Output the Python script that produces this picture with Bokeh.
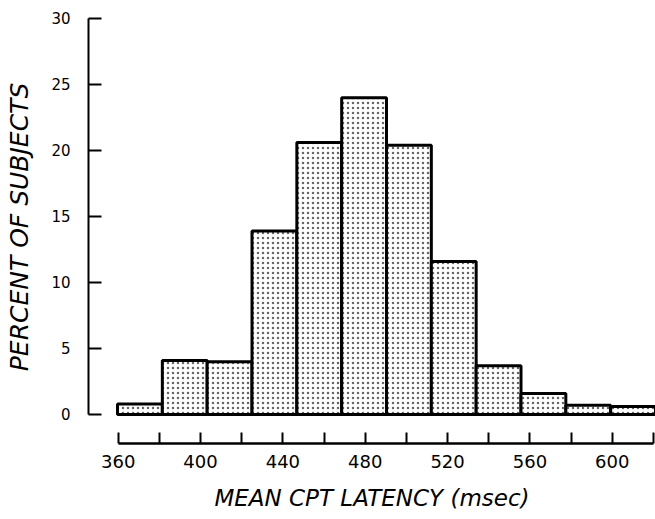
from bokeh.plotting import figure
from bokeh.models import Range1d, LinearAxis, FixedTicker
from bokeh.embed import file_html
from bokeh.resources import INLINE

# Histogram bins (msec) and percent of subjects
bin_left = [360, 380, 400, 420, 440, 460, 480, 500, 520, 540, 560, 580]
bin_right = [380, 400, 420, 440, 460, 480, 500, 520, 540, 560, 580, 600]
percent = [0.8, 4.1, 4.0, 13.9, 20.6, 24.0, 20.4, 11.6, 3.7, 1.6, 0.7, 0.6]

y_ticks = [0, 5, 10, 15, 20, 25, 30]
x_label_ticks = [360, 400, 440, 480, 520, 560, 600]
x_minor_ticks = [380, 420, 460, 500, 540, 580, 620]

p = figure(width=655, height=519, output_backend="svg", toolbar_location=None,
           x_range=Range1d(347.06, 600.0), y_range=Range1d(-2.197, 30.606),
           x_axis_location=None, y_axis_location=None,
           min_border_left=88, min_border_right=0, min_border_top=10, min_border_bottom=76)
p.extra_x_ranges = {"scale": Range1d(345.57, 621.0)}
p.grid.visible = False
p.outline_line_color = None
p.background_fill_color = "white"

p.quad(left=bin_left, right=bin_right, bottom=0, top=percent,
       fill_color="white", line_color="black", line_width=3,
       hatch_pattern="dot", hatch_color="#666666", hatch_scale=5, hatch_weight=1.2)

yax = LinearAxis(ticker=FixedTicker(ticks=y_ticks), bounds=(0, 30))
yax.axis_label = "PERCENT OF SUBJECTS"
yax.axis_label_text_font = "DejaVu Sans"
yax.axis_label_text_font_style = "italic"
yax.axis_label_text_font_size = "25px"
yax.axis_label_text_color = "black"
yax.axis_label_standoff = 14
yax.major_label_text_font = "DejaVu Sans"
yax.major_label_text_font_size = "15px"
yax.major_label_text_color = "black"
yax.major_label_standoff = 18
yax.major_tick_in = 13
yax.major_tick_out = 0
yax.major_tick_line_width = 2
yax.minor_tick_line_color = None
yax.axis_line_width = 2
p.add_layout(yax, "left")

xax = LinearAxis(x_range_name="scale",
                 ticker=FixedTicker(ticks=x_label_ticks, minor_ticks=x_minor_ticks),
                 bounds=(360, 620))
xax.axis_label = "MEAN CPT LATENCY (msec)"
xax.axis_label_text_font = "DejaVu Sans"
xax.axis_label_text_font_style = "italic"
xax.axis_label_text_font_size = "23px"
xax.axis_label_text_color = "black"
xax.axis_label_standoff = 14
xax.major_label_text_font = "DejaVu Sans"
xax.major_label_text_font_size = "18px"
xax.major_label_text_color = "black"
xax.major_label_standoff = 11
xax.major_tick_in = 11
xax.major_tick_out = 0
xax.major_tick_line_width = 2
xax.minor_tick_in = 11
xax.minor_tick_out = 0
xax.minor_tick_line_width = 2
xax.minor_tick_line_color = "black"
xax.axis_line_width = 2.5
p.add_layout(xax, "below")

open("out.html", "w").write(file_html(p, INLINE))
